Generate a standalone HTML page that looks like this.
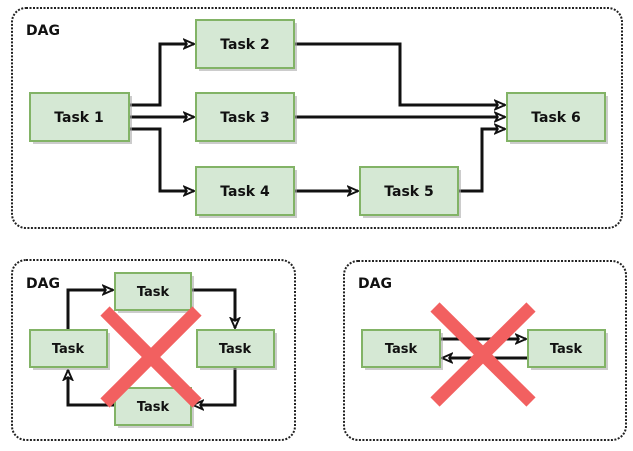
<!DOCTYPE html>
<html><head><meta charset="utf-8"><style>
html,body{margin:0;padding:0;background:#fff;}
svg{display:block;}
text{font-family:"DejaVu Sans","Liberation Sans",sans-serif;font-weight:bold;fill:#111;}
</style></head><body>
<svg width="633" height="451" viewBox="0 0 633 451" xmlns="http://www.w3.org/2000/svg">
<defs>
<marker id="a" viewBox="0 0 10 10" refX="9" refY="5" markerWidth="12" markerHeight="12" orient="auto" markerUnits="userSpaceOnUse">
<path d="M1,1.5 L9,5 L1,8.5 L3,5 Z" fill="#fff" stroke="#111" stroke-width="1.6"/></marker>
</defs>
<g fill="none" stroke="#222" stroke-width="2" stroke-dasharray="2 1.5">
<rect x="12" y="8" width="610" height="220" rx="14"/>
<rect x="12" y="260" width="283" height="180" rx="14"/>
<rect x="344" y="261" width="282" height="179" rx="14"/>
</g>
<g font-size="14"><text x="26" y="35">DAG</text><text x="26" y="288">DAG</text><text x="358" y="288">DAG</text></g>
<g fill="none" stroke="#111" stroke-width="3" marker-end="url(#a)">
<polyline points="129,105 160,105 160,44 194,44"/>
<polyline points="129,117 194,117"/>
<polyline points="129,129 160,129 160,191 194,191"/>
<polyline points="294,44 400,44 400,105 505,105"/>
<polyline points="294,117 505,117"/>
<polyline points="458,191 482,191 482,129 505,129"/>
<polyline points="294,191 358,191"/>
<polyline points="68,330 68,290 113,290"/>
<polyline points="191,290 235,290 235,328"/>
<polyline points="235,368 235,405 193,405"/>
<polyline points="115,405 68,405 68,370"/>
<polyline points="440,339 526,339"/>
<polyline points="528,358 442,358"/>
</g>
<g font-size="14" text-anchor="middle">
<g transform="translate(30,93)"><rect x="3" y="3" width="99" height="48" fill="#aaa" opacity=".6"/><rect width="99" height="48" fill="#d5e8d4" stroke="#82b366" stroke-width="2"/><text x="49" y="29">Task 1</text></g>
<g transform="translate(196,20)"><rect x="3" y="3" width="98" height="48" fill="#aaa" opacity=".6"/><rect width="98" height="48" fill="#d5e8d4" stroke="#82b366" stroke-width="2"/><text x="49" y="29">Task 2</text></g>
<g transform="translate(196,93)"><rect x="3" y="3" width="98" height="48" fill="#aaa" opacity=".6"/><rect width="98" height="48" fill="#d5e8d4" stroke="#82b366" stroke-width="2"/><text x="49" y="29">Task 3</text></g>
<g transform="translate(196,167)"><rect x="3" y="3" width="98" height="48" fill="#aaa" opacity=".6"/><rect width="98" height="48" fill="#d5e8d4" stroke="#82b366" stroke-width="2"/><text x="49" y="29">Task 4</text></g>
<g transform="translate(360,167)"><rect x="3" y="3" width="98" height="48" fill="#aaa" opacity=".6"/><rect width="98" height="48" fill="#d5e8d4" stroke="#82b366" stroke-width="2"/><text x="49" y="29">Task 5</text></g>
<g transform="translate(507,93)"><rect x="3" y="3" width="98" height="48" fill="#aaa" opacity=".6"/><rect width="98" height="48" fill="#d5e8d4" stroke="#82b366" stroke-width="2"/><text x="49" y="29">Task 6</text></g>
</g>
<g font-size="13" text-anchor="middle">
<g transform="translate(115,273)"><rect x="3" y="3" width="76" height="37" fill="#aaa" opacity=".6"/><rect width="76" height="37" fill="#d5e8d4" stroke="#82b366" stroke-width="2"/><text x="38" y="23">Task</text></g>
<g transform="translate(30,330)"><rect x="3" y="3" width="77" height="37" fill="#aaa" opacity=".6"/><rect width="77" height="37" fill="#d5e8d4" stroke="#82b366" stroke-width="2"/><text x="38" y="23">Task</text></g>
<g transform="translate(197,330)"><rect x="3" y="3" width="77" height="37" fill="#aaa" opacity=".6"/><rect width="77" height="37" fill="#d5e8d4" stroke="#82b366" stroke-width="2"/><text x="38" y="23">Task</text></g>
<g transform="translate(115,388)"><rect x="3" y="3" width="76" height="37" fill="#aaa" opacity=".6"/><rect width="76" height="37" fill="#d5e8d4" stroke="#82b366" stroke-width="2"/><text x="38" y="23">Task</text></g>
<g transform="translate(362,330)"><rect x="3" y="3" width="78" height="37" fill="#aaa" opacity=".6"/><rect width="78" height="37" fill="#d5e8d4" stroke="#82b366" stroke-width="2"/><text x="39" y="23">Task</text></g>
<g transform="translate(528,330)"><rect x="3" y="3" width="77" height="37" fill="#aaa" opacity=".6"/><rect width="77" height="37" fill="#d5e8d4" stroke="#82b366" stroke-width="2"/><text x="38" y="23">Task</text></g>
</g>
<g stroke="#f26060" stroke-width="13">
<line x1="105" y1="311" x2="197" y2="403"/><line x1="197" y1="311" x2="105" y2="403"/>
<line x1="435" y1="307" x2="531" y2="402"/><line x1="531" y1="307" x2="435" y2="402"/>
</g>
</svg>
</body></html>
